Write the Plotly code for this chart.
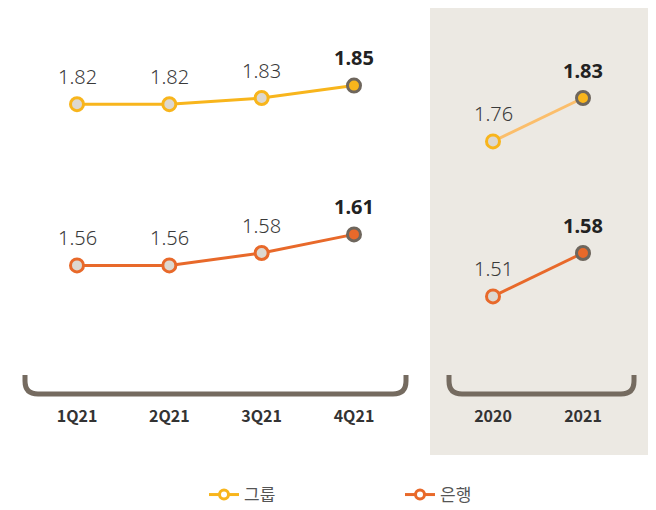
import plotly.graph_objects as go

# ---- data ----
quarters = ["1Q21", "2Q21", "3Q21", "4Q21"]
group_q = [1.82, 1.82, 1.83, 1.85]
bank_q = [1.56, 1.56, 1.58, 1.61]
years = ["2020", "2021"]
group_y = [1.76, 1.83]
bank_y = [1.51, 1.58]
series_names = ["그룹", "은행"]

# ---- layout geometry (page pixels; the page body has an 8px margin) ----
OFF = 8
W, H = 656, 510
PLOT_TOP, PLOT_BOTTOM = OFF, 402        # plot area, page px
PH = PLOT_BOTTOM - PLOT_TOP

GROUP = "#F8B51C"
GROUP_LIGHT = "#FBBE6B"
BANK = "#E8692A"
FILL = "#DDD8D0"
LAST_OUT = "#6E665D"
BRACKET = "#756B60"
PANEL = "#ECE9E3"
NUM_FONT = "Noto Sans, Noto Sans CJK KR, sans-serif"
KR_FONT = "Noto Sans CJK KR, Noto Sans, sans-serif"


def px_x(x):
    return (x - OFF) / W


def px_y(y):
    return (PLOT_BOTTOM - y) / PH


fig = go.Figure()


def add_series(xs, ys, color, line_color, xaxis):
    n = len(xs)
    fills = [FILL] * (n - 1) + [color]
    outs = [color] * (n - 1) + [LAST_OUT]
    fig.add_trace(go.Scatter(
        x=xs, y=ys, xaxis=xaxis, yaxis="y", mode="lines+markers",
        line=dict(color=line_color, width=3),
        marker=dict(size=13, color=fills, line=dict(color=outs, width=3)),
        showlegend=False, hoverinfo="skip", cliponaxis=False,
    ))
    for i, yv in enumerate(ys):
        last = i == n - 1
        fig.add_annotation(
            x=i, y=yv, xref=xaxis, yref="y",
            text=(f"<b>{yv:.2f}</b>" if last else f"{yv:.2f}"),
            showarrow=False, yanchor="middle", yshift=28,
            font=dict(family=NUM_FONT, size=20,
                      color="#222222" if last else "#3a3a3a",
                      weight=None if last else 300),
        )


add_series(quarters, group_q, GROUP, GROUP, "x")
add_series(quarters, bank_q, BANK, BANK, "x")
add_series(years, group_y, GROUP, GROUP_LIGHT, "x2")
add_series(years, bank_y, BANK, BANK, "x2")

# legend-only traces
for name, c in zip(series_names, [GROUP, BANK]):
    fig.add_trace(go.Scatter(
        x=[None], y=[None], mode="lines+markers", name=name,
        line=dict(color=c, width=3),
        marker=dict(size=9, color="white", line=dict(color=c, width=3)),
    ))

# shaded right panel
fig.add_shape(type="rect", xref="paper", yref="paper",
              x0=px_x(430), x1=px_x(650), y0=px_y(455), y1=px_y(4),
              fillcolor=PANEL, line=dict(width=0), layer="below")


# brackets under each group of categories
def bracket(x0, x1, ytop=375, ybot=394, r=13):
    X0, X1 = px_x(x0), px_x(x1)
    rx, ry = r / W, r / PH
    YT, YB = px_y(ytop), px_y(ybot)
    path = (f"M{X0},{YT} L{X0},{YB + ry} Q{X0},{YB} {X0 + rx},{YB} "
            f"L{X1 - rx},{YB} Q{X1},{YB} {X1},{YB + ry} L{X1},{YT}")
    fig.add_shape(type="path", path=path, xref="paper", yref="paper",
                  line=dict(color=BRACKET, width=5))


bracket(25, 406)
bracket(449, 634)

# category placement (page px) -> axis ranges in category-index units
q0, qstep = 77, 92.33
y0, ystep = 493, 90
RIGHT = OFF + W
tickfont = dict(family=KR_FONT, size=16, color="#333333", weight="bold")

fig.update_layout(
    width=W, height=H,
    margin=dict(l=0, r=0, t=PLOT_TOP - OFF, b=(OFF + H) - PLOT_BOTTOM),
    paper_bgcolor="white", plot_bgcolor="rgba(0,0,0,0)",
    xaxis=dict(domain=[0, px_x(430)], range=[(OFF - q0) / qstep, (430 - q0) / qstep],
               type="category", showgrid=False, zeroline=False, showline=False,
               ticks="", tickfont=tickfont, ticklabelstandoff=3,
               anchor="y", fixedrange=True),
    xaxis2=dict(domain=[px_x(430), 1],
                range=[(430 - y0) / ystep, (RIGHT - y0) / ystep],
                type="category", showgrid=False, zeroline=False, showline=False,
                ticks="", tickfont=tickfont, ticklabelstandoff=3,
                anchor="y", fixedrange=True),
    yaxis=dict(range=[(1232.6 - PLOT_BOTTOM) / 620, (1232.6 - PLOT_TOP) / 620],
               visible=False, fixedrange=True),
    showlegend=True,
    legend=dict(orientation="h", x=px_x(204), xanchor="left", y=px_y(495),
                yanchor="middle", entrywidth=151, entrywidthmode="pixels",
                font=dict(family=KR_FONT, size=17, color="#555555"),
                bgcolor="rgba(0,0,0,0)"),
)

fig.write_html("out.html")
